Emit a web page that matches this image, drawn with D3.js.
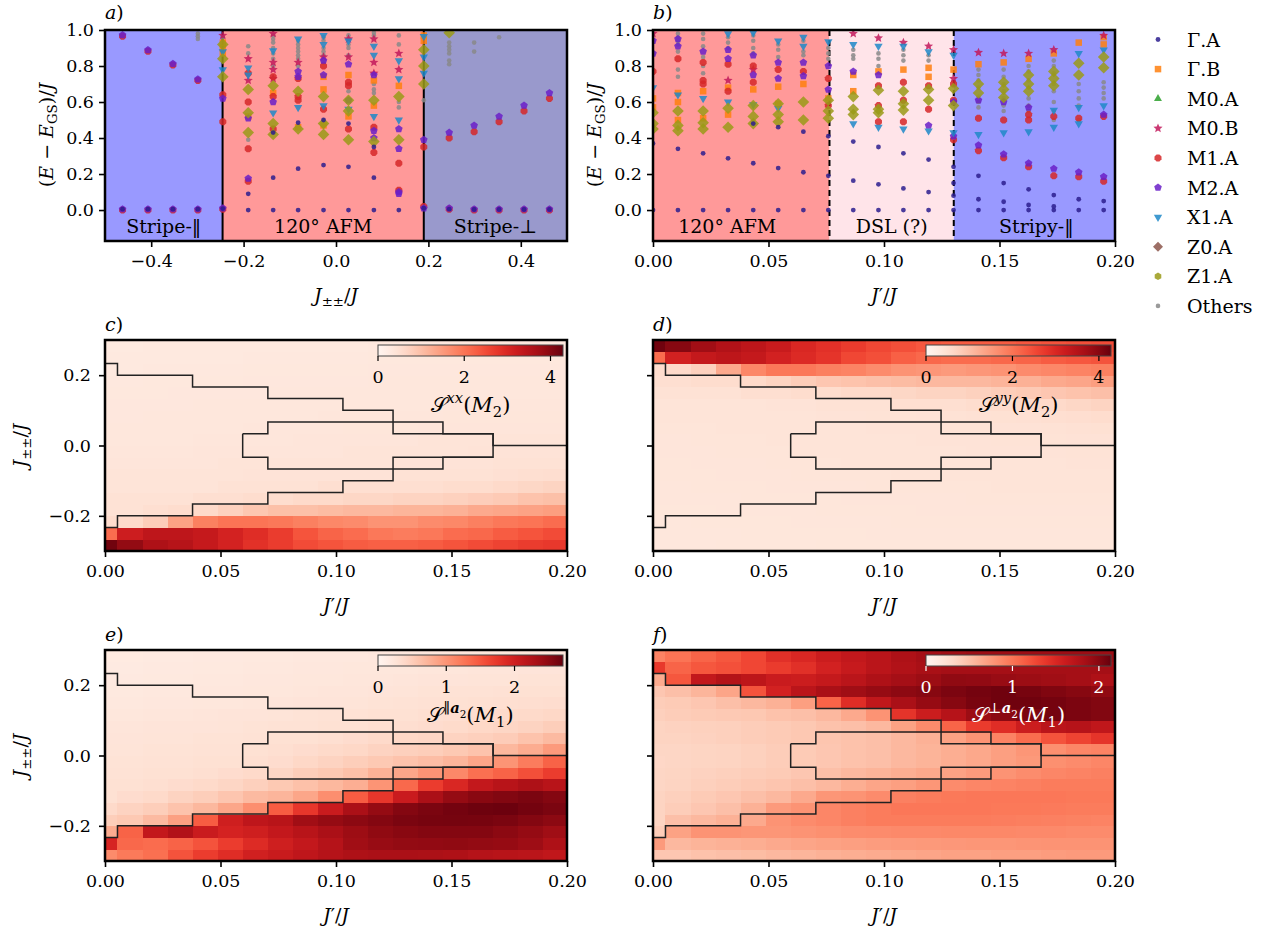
<!DOCTYPE html>
<html>
<head>
<meta charset="utf-8">
<script src="https://cdn.jsdelivr.net/npm/d3@7"></script>
<style>
  body { margin: 0; background: #fff; }
  text { font-family: "DejaVu Serif", "Liberation Serif", serif; fill: #000; }
</style>
</head>
<body>
<svg id="fig" width="1269" height="931"></svg>
<script>
// ---------------- data ----------------
const seriesNames = ["Γ.A","Γ.B","M0.A","M0.B","M1.A","M2.A","X1.A","Z0.A","Z1.A","Others"];

// panel a: J±± grid, points are [column index, (E-E_GS)/J]
const jA = [-0.462,-0.407,-0.353,-0.299,-0.245,-0.190,-0.136,-0.082,-0.027,0.027,0.082,0.136,0.190,0.245,0.299,0.353,0.407,0.462];
const aGA = [[0,0.005],[1,0.005],[2,0.005],[3,0.005],[4,0.008],[5,0],[6,0],[7,0],[8,0],[9,0],[10,0],[11,0],[12,0.01],[13,0.005],[14,0.003],[15,0.003],[16,0.003],[17,0.003],
  [5,0.09],[6,0.43],[6,0.18],[7,0.485],[7,0.23],[8,0.5],[8,0.25],[9,0.48],[9,0.24],[10,0.35],[10,0.18]];
const aGB = [[4,0.93],[4,0.9],[4,0.87],[5,0.52],[6,0.65],[7,0.46],[8,0.74],[8,0.67],[8,0.47],[9,0.75],[9,0.52],[10,0.72],[10,0.58],[11,0.69],[12,0.97],[12,0.94]];
const aM0A = [];
const aM0B = [[4,0.97],[5,0.84],[5,0.72],[6,0.98],[6,0.82],[6,0.78],[6,0.73],[7,0.82],[8,0.85],[9,0.95],[9,0.85],[10,0.95],[10,0.82],[10,0.76],[11,0.87],[11,0.78]];
const aM1A = [[0,0.965],[0,0],[1,0.882],[1,0],[2,0.806],[2,0],[3,0.72],[3,0],[4,0.64],[4,0.49],[4,0.005],[5,0.76],[5,0.6],[5,0.34],[5,0.16],[6,0.74],[6,0.63],[6,0.45],[7,0.73],[7,0.63],[7,0.61],[8,0.8],[8,0.56],[9,0.71],[9,0.69],[9,0.45],[10,0.46],[10,0.32],[11,0.26],[11,0.11],[12,0.35],[12,0.02],[13,0.4],[13,0.005],[14,0.435],[14,0],[15,0.49],[15,0],[16,0.55],[16,0],[17,0.62],[17,0]];
const aM2A = [[0,0.972],[0,0.005],[1,0.889],[1,0.005],[2,0.813],[2,0.005],[3,0.726],[3,0.005],[4,0.62],[4,0.01],[5,0.51],[5,0.175],[6,0.6],[7,0.77],[7,0.74],[8,0.83],[8,0.75],[9,0.81],[9,0.61],[10,0.75],[10,0.44],[10,0.4],[11,0.45],[11,0.34],[11,0.1],[11,0.09],[12,0.39],[12,0.01],[13,0.43],[13,0.01],[14,0.47],[14,0.005],[15,0.52],[15,0.005],[16,0.58],[16,0.005],[17,0.65],[17,0.005]];
const aX1A = [[4,0.88],[4,0.78],[5,0.79],[5,0.75],[6,0.885],[6,0.54],[7,0.95],[7,0.57],[8,0.97],[8,0.92],[8,0.58],[9,0.94],[9,0.56],[10,0.91],[10,0.86],[10,0.52],[11,0.83],[11,0.73],[11,0.5],[12,0.965],[12,0.85],[12,0.76]];
const aZ0A = [];
const aZ1A = [[4,0.92],[4,0.84],[4,0.74],[5,0.67],[5,0.54],[5,0.43],[6,0.69],[6,0.48],[6,0.42],[7,0.66],[7,0.45],[8,0.63],[8,0.48],[8,0.42],[9,0.61],[9,0.55],[9,0.39],[10,0.61],[10,0.38],[11,0.63],[11,0.39],[12,0.89],[12,0.8],[12,0.7],[13,0.985]];
const aOth = [[3,0.98],[3,0.965],[3,0.95],[4,0.96],[5,0.91],[5,0.87],[5,0.39],[6,0.97],[6,0.95],[6,0.93],[6,0.9],[6,0.87],[6,0.84],[6,0.8],[7,0.94],[7,0.92],[7,0.9],[7,0.88],[7,0.86],[7,0.84],[7,0.8],
  [8,0.96],[8,0.94],[8,0.9],[8,0.88],[8,0.86],[8,0.82],[9,0.97],[9,0.95],[9,0.92],[9,0.9],[9,0.86],[9,0.66],[10,0.985],[10,0.97],[10,0.7],[10,0.67],[10,0.65],[11,0.97],[11,0.92],[11,0.6],[11,0.57],[12,0.61],
  [13,0.93],[13,0.91],[13,0.89],[13,0.87],[13,0.83],[13,0.81],[14,0.93],[14,0.88],[15,0.96]];
const aPhaseEdges = [-0.5, -0.2455, 0.19, 0.5];
const aPhaseNames = ["Stripe-‖", "120° AFM", "Stripe-⊥"];

// panel b: J' grid (also the heat-map columns)
const jB = [0,0.0108,0.0217,0.0325,0.0434,0.0542,0.0651,0.0759,0.0867,0.0976,0.1084,0.1193,0.1301,0.1409,0.1518,0.1626,0.1735,0.1843,0.1951];
const bGA = [[0,0],[1,0],[2,0],[3,0],[4,0],[5,0],[6,0],[7,0],[8,0],[9,0],[10,0],[11,0],[12,0],[13,0],[14,0],[15,0],[16,0],[17,0],[18,0],
  [0,0.37],[1,0.34],[2,0.315],[3,0.287],[4,0.26],[5,0.233],[6,0.21],[4,0.48],[5,0.46],[6,0.435],[7,0.41],[7,0.19],[8,0.38],[8,0.163],[9,0.35],[9,0.143],[10,0.315],[10,0.12],
  [11,0.28],[11,0.1],[12,0.24],[12,0.15],[12,0.08],[13,0.19],[13,0.06],[14,0.15],[14,0.046],[15,0.115],[15,0.028],[16,0.083],[16,0.02],[17,0.06],[18,0.05]];
const bGB = [[0,0.62],[0,0.57],[1,0.65],[1,0.6],[1,0.5],[2,0.66],[2,0.51],[3,0.68],[3,0.53],[4,0.67],[5,0.685],[5,0.59],[6,0.7],[7,0.62],[8,0.75],[8,0.66],[9,0.77],[10,0.78],[11,0.79],[11,0.74],[12,0.78],[13,0.81],[14,0.82],[15,0.84],[16,0.87],[17,0.93],[18,0.92],[18,0.96]];
const bM0A = [];
const bM0B = [[0,0.98],[3,0.72],[4,0.78],[8,0.98],[9,0.955],[10,0.93],[11,0.91],[12,0.89],[12,0.73],[13,0.875],[14,0.87],[15,0.87],[16,0.89],[18,0.97]];
const bM1A = [[0,0.77],[1,0.84],[2,0.82],[2,0.72],[2,0.7],[3,0.81],[3,0.66],[4,0.8],[4,0.71],[5,0.78],[6,0.77],[7,0.73],[7,0.58],[9,0.69],[9,0.58],[9,0.49],[10,0.71],[10,0.61],[10,0.49],[11,0.69],[11,0.56],[12,0.7],[12,0.61],[12,0.39],
  [13,0.51],[13,0.33],[14,0.5],[14,0.29],[15,0.53],[15,0.5],[15,0.24],[16,0.52],[16,0.19],[17,0.51],[17,0.185],[18,0.52],[18,0.16]];
const bM2A = [[0,0.94],[0,0.87],[1,0.95],[1,0.91],[2,0.88],[3,0.89],[3,0.84],[4,0.86],[4,0.75],[5,0.82],[5,0.73],[6,0.82],[6,0.745],[7,0.8],[7,0.67],[8,0.77],[9,0.75],[11,0.47],[12,0.6],[12,0.41],[13,0.61],[13,0.36],[14,0.6],[14,0.31],[15,0.57],[15,0.26],[16,0.23],[17,0.21],[18,0.53],[18,0.185]];
const bX1A = [[0,0.68],[1,0.64],[2,0.62],[3,0.98],[3,0.6],[4,0.985],[4,0.585],[5,0.94],[5,0.565],[6,0.96],[6,0.91],[7,0.935],[8,0.92],[8,0.48],[9,0.91],[9,0.46],[10,0.91],[10,0.45],[11,0.88],[11,0.44],[12,0.86],[12,0.43],[13,0.42],[14,0.43],[15,0.435],[16,0.555],[16,0.46],[17,0.87],[17,0.57],[17,0.48],[18,0.89],[18,0.58]];
const bZ0A = [];
const bZ1A = [[0,0.54],[0,0.48],[0,0.45],[1,0.55],[1,0.47],[1,0.44],[2,0.55],[2,0.485],[2,0.45],[3,0.565],[3,0.46],[4,0.58],[4,0.52],[4,0.48],[5,0.59],[5,0.53],[5,0.49],[6,0.6],[6,0.5],[7,0.61],[7,0.55],[7,0.51],[8,0.63],[8,0.56],[8,0.53],
  [9,0.665],[9,0.56],[9,0.54],[10,0.66],[10,0.59],[10,0.555],[11,0.67],[11,0.61],[12,0.675],[12,0.58],[13,0.7],[13,0.65],[14,0.71],[14,0.67],[14,0.625],[15,0.75],[15,0.7],[15,0.66],[16,0.77],[16,0.73],[16,0.69],[17,0.815],[17,0.75],[18,0.85],[18,0.79]];
const bOth = [[1,0.98],[1,0.96],[1,0.94],[1,0.92],[1,0.88],[1,0.78],[1,0.74],[2,0.98],[2,0.95],[2,0.91],[2,0.85],[2,0.8],[2,0.76],[3,0.96],[3,0.93],[3,0.9],[4,0.97],[4,0.94],[4,0.9],[4,0.87],
  [5,0.92],[5,0.89],[5,0.85],[6,0.94],[6,0.88],[6,0.86],[7,0.9],[7,0.87],[7,0.84],[8,0.89],[8,0.86],[8,0.84],[9,0.87],[9,0.84],[9,0.8],[10,0.89],[10,0.86],[10,0.83],[11,0.86],[11,0.83],
  [13,0.78],[13,0.75],[13,0.72],[13,0.68],[13,0.63],[13,0.6],[13,0.57],[14,0.78],[14,0.74],[14,0.7],[14,0.66],[14,0.62],[14,0.58],[14,0.55],[15,0.8],[15,0.77],[15,0.72],[15,0.68],[15,0.62],[15,0.58],[15,0.55],
  [16,0.83],[16,0.8],[16,0.76],[16,0.7],[16,0.66],[16,0.6],[16,0.55],[16,0.5],[17,0.7],[17,0.66],[17,0.62],[17,0.58],[17,0.5],[18,0.71],[18,0.68],[18,0.65],[18,0.62]];
const bPhaseEdges = [0, 0.0764, 0.1302, 0.2];
const bPhaseNames = ["120° AFM", "DSL (?)", "Stripy-‖"];

// heat maps: rows are J±± (bottom to top), columns are jB
const jpmRows = [-0.2833,-0.25,-0.2167,-0.1833,-0.15,-0.1167,-0.0833,-0.05,-0.0167,0.0167,0.05,0.0833,0.1167,0.15,0.1833,0.2167,0.25,0.2833];
const heatC = [
  [4.2,3.9,3.6,3.5,3.3,3.1,2.85,2.7,2.5,2.4,2.3,2.25,2.25,2.3,2.4,2.5,2.6,2.7,2.75],
  [2.1,3.2,3.4,3.4,3.3,3.1,2.9,2.7,2.4,2.2,2.1,1.95,1.9,1.95,2.1,2.15,2.3,2.4,2.5],
  [0.55,0.6,0.8,1.4,1.85,2.0,2.0,1.95,1.85,1.75,1.7,1.6,1.6,1.7,1.75,1.85,1.95,2.0,2.1],
  [0.45,0.45,0.5,0.55,0.6,0.75,0.9,1.0,1.0,1.05,1.1,1.1,1.15,1.15,1.2,1.3,1.35,1.4,1.45],
  [0.45,0.45,0.45,0.45,0.5,0.5,0.55,0.55,0.6,0.6,0.65,0.65,0.7,0.7,0.75,0.8,0.85,0.95,1.0],
  [0.4,0.4,0.4,0.4,0.4,0.45,0.45,0.45,0.45,0.5,0.5,0.5,0.5,0.5,0.55,0.55,0.6,0.65,0.7],
  [0.4,0.4,0.4,0.4,0.4,0.4,0.42,0.42,0.42,0.42,0.42,0.42,0.45,0.45,0.45,0.45,0.48,0.5,0.52],
  [0.38,0.38,0.38,0.38,0.38,0.4,0.4,0.4,0.4,0.4,0.4,0.4,0.42,0.42,0.42,0.42,0.45,0.45,0.45],
  [0.36,0.36,0.36,0.36,0.38,0.38,0.38,0.38,0.38,0.38,0.4,0.4,0.4,0.4,0.4,0.42,0.42,0.42,0.42],
  [0.35,0.35,0.35,0.35,0.36,0.36,0.36,0.36,0.38,0.38,0.38,0.38,0.38,0.4,0.4,0.4,0.4,0.4,0.4],
  [0.34,0.34,0.34,0.35,0.35,0.35,0.36,0.36,0.36,0.36,0.37,0.37,0.37,0.38,0.38,0.38,0.38,0.38,0.38],
  [0.33,0.33,0.34,0.34,0.34,0.35,0.35,0.35,0.35,0.36,0.36,0.36,0.36,0.36,0.37,0.37,0.37,0.37,0.37],
  [0.33,0.33,0.33,0.33,0.34,0.34,0.34,0.34,0.35,0.35,0.35,0.35,0.35,0.35,0.36,0.36,0.36,0.36,0.36],
  [0.32,0.32,0.32,0.33,0.33,0.33,0.33,0.34,0.34,0.34,0.34,0.34,0.35,0.35,0.35,0.35,0.35,0.35,0.35],
  [0.31,0.31,0.32,0.32,0.32,0.32,0.33,0.33,0.33,0.33,0.33,0.34,0.34,0.34,0.34,0.34,0.34,0.34,0.34],
  [0.3,0.3,0.31,0.31,0.31,0.31,0.32,0.32,0.32,0.32,0.32,0.33,0.33,0.33,0.33,0.33,0.33,0.33,0.33],
  [0.29,0.29,0.3,0.3,0.3,0.3,0.31,0.31,0.31,0.31,0.31,0.32,0.32,0.32,0.32,0.32,0.32,0.32,0.32],
  [0.28,0.28,0.29,0.29,0.29,0.29,0.3,0.3,0.3,0.3,0.3,0.31,0.31,0.31,0.31,0.31,0.31,0.31,0.31]
];
const heatD = [
  [0.33,0.33,0.33,0.34,0.34,0.34,0.34,0.35,0.35,0.35,0.35,0.35,0.35,0.35,0.35,0.35,0.35,0.35,0.35],
  [0.34,0.34,0.34,0.34,0.35,0.35,0.35,0.35,0.35,0.36,0.36,0.36,0.36,0.36,0.36,0.36,0.36,0.36,0.36],
  [0.34,0.34,0.35,0.35,0.35,0.35,0.36,0.36,0.36,0.36,0.37,0.37,0.37,0.37,0.37,0.37,0.37,0.37,0.37],
  [0.35,0.35,0.35,0.36,0.36,0.36,0.36,0.37,0.37,0.37,0.37,0.38,0.38,0.38,0.38,0.38,0.38,0.38,0.38],
  [0.36,0.36,0.36,0.36,0.37,0.37,0.37,0.37,0.38,0.38,0.38,0.38,0.38,0.39,0.39,0.39,0.39,0.39,0.39],
  [0.36,0.36,0.37,0.37,0.37,0.38,0.38,0.38,0.38,0.39,0.39,0.39,0.39,0.39,0.4,0.4,0.4,0.4,0.4],
  [0.37,0.37,0.37,0.38,0.38,0.38,0.39,0.39,0.39,0.39,0.4,0.4,0.4,0.4,0.4,0.4,0.41,0.41,0.41],
  [0.37,0.37,0.38,0.38,0.38,0.39,0.39,0.39,0.4,0.4,0.4,0.4,0.41,0.41,0.41,0.41,0.41,0.42,0.42],
  [0.38,0.38,0.38,0.39,0.39,0.39,0.4,0.4,0.4,0.4,0.41,0.41,0.41,0.42,0.42,0.42,0.42,0.43,0.43],
  [0.38,0.38,0.39,0.39,0.39,0.4,0.4,0.4,0.41,0.41,0.41,0.42,0.42,0.42,0.43,0.43,0.43,0.44,0.44],
  [0.39,0.39,0.39,0.4,0.4,0.4,0.41,0.41,0.41,0.42,0.42,0.42,0.43,0.43,0.44,0.44,0.45,0.46,0.47],
  [0.4,0.4,0.4,0.4,0.4,0.41,0.41,0.42,0.42,0.43,0.43,0.44,0.45,0.46,0.47,0.48,0.5,0.52,0.55],
  [0.4,0.4,0.4,0.4,0.4,0.42,0.42,0.45,0.45,0.45,0.5,0.5,0.5,0.55,0.55,0.6,0.6,0.65,0.7],
  [0.45,0.45,0.45,0.45,0.5,0.5,0.55,0.55,0.6,0.6,0.65,0.7,0.7,0.75,0.8,0.85,0.9,0.95,1.0],
  [0.5,0.5,0.55,0.55,0.6,0.7,0.8,0.9,0.95,1.0,1.05,1.1,1.1,1.1,1.15,1.2,1.3,1.35,1.45],
  [0.55,0.6,0.75,1.3,1.75,1.95,1.95,1.85,1.8,1.7,1.6,1.55,1.5,1.55,1.6,1.7,1.75,1.8,1.85],
  [2.1,3.1,3.3,3.4,3.3,3.1,2.95,2.8,2.55,2.45,2.25,2.15,2.1,2.1,2.15,2.2,2.3,2.35,2.4],
  [4.2,4.0,3.75,3.55,3.4,3.25,3.0,2.85,2.7,2.55,2.45,2.35,2.3,2.3,2.3,2.35,2.4,2.45,2.5]
];
const heatE = [
  [1.08,1.22,1.3,1.52,1.7,1.84,1.98,2.06,2.14,2.22,2.28,2.3,2.3,2.29,2.27,2.22,2.2,2.18,2.13],
  [1.93,1.36,1.33,1.4,1.52,1.7,1.86,2.0,2.1,2.22,2.37,2.43,2.46,2.47,2.48,2.46,2.44,2.39,2.28],
  [0.8,1.4,2.1,2.25,2.05,1.95,2.0,2.1,2.2,2.3,2.4,2.48,2.52,2.55,2.55,2.55,2.5,2.45,2.38],
  [0.5,0.55,0.68,0.9,1.45,2.0,2.15,2.2,2.37,2.45,2.5,2.55,2.6,2.62,2.63,2.62,2.6,2.55,2.5],
  [0.38,0.45,0.5,0.6,0.7,0.85,1.05,1.45,1.75,2.05,2.3,2.45,2.55,2.6,2.64,2.67,2.68,2.64,2.6],
  [0.3,0.35,0.38,0.45,0.5,0.58,0.68,0.72,0.85,1.05,1.45,1.75,2.05,2.3,2.45,2.52,2.56,2.6,2.55],
  [0.3,0.3,0.32,0.35,0.38,0.42,0.48,0.55,0.62,0.7,0.78,1.0,1.35,1.7,1.9,2.1,2.2,2.28,2.2],
  [0.28,0.28,0.3,0.3,0.32,0.35,0.38,0.42,0.5,0.55,0.62,0.75,0.85,1.0,1.1,1.3,1.4,1.55,1.7],
  [0.27,0.27,0.28,0.28,0.3,0.3,0.32,0.35,0.4,0.45,0.5,0.55,0.6,0.65,0.72,0.85,1.0,1.2,1.4],
  [0.26,0.26,0.27,0.27,0.28,0.28,0.3,0.32,0.35,0.38,0.4,0.45,0.48,0.5,0.55,0.6,0.7,0.8,0.95],
  [0.25,0.25,0.26,0.26,0.27,0.27,0.28,0.3,0.3,0.32,0.35,0.38,0.4,0.42,0.45,0.48,0.52,0.6,0.68],
  [0.24,0.24,0.25,0.25,0.25,0.26,0.27,0.28,0.28,0.3,0.3,0.32,0.33,0.35,0.37,0.4,0.42,0.45,0.5],
  [0.22,0.22,0.23,0.23,0.24,0.25,0.25,0.26,0.27,0.28,0.28,0.3,0.3,0.32,0.33,0.35,0.37,0.38,0.4],
  [0.2,0.2,0.21,0.21,0.22,0.22,0.23,0.24,0.25,0.25,0.26,0.27,0.28,0.29,0.3,0.31,0.32,0.33,0.34],
  [0.19,0.19,0.2,0.2,0.21,0.21,0.22,0.22,0.23,0.24,0.24,0.25,0.26,0.27,0.28,0.28,0.29,0.3,0.3],
  [0.18,0.18,0.19,0.19,0.2,0.2,0.21,0.21,0.22,0.22,0.23,0.23,0.24,0.25,0.25,0.26,0.26,0.27,0.27],
  [0.17,0.17,0.18,0.18,0.19,0.19,0.2,0.2,0.21,0.21,0.22,0.22,0.22,0.23,0.23,0.24,0.24,0.25,0.25],
  [0.16,0.16,0.17,0.17,0.18,0.18,0.19,0.19,0.2,0.2,0.2,0.21,0.21,0.21,0.22,0.22,0.22,0.23,0.23]
];
const heatF = [
  [0.45,0.45,0.48,0.5,0.52,0.55,0.57,0.6,0.62,0.64,0.66,0.68,0.7,0.7,0.72,0.72,0.74,0.75,0.75],
  [0.75,0.55,0.58,0.6,0.62,0.65,0.68,0.7,0.72,0.74,0.75,0.76,0.77,0.78,0.78,0.79,0.8,0.8,0.8],
  [0.4,0.7,0.8,0.8,0.78,0.78,0.8,0.82,0.84,0.85,0.86,0.86,0.87,0.87,0.87,0.86,0.86,0.85,0.85],
  [0.35,0.5,0.55,0.6,0.65,0.8,0.85,0.88,0.92,0.95,0.95,0.95,0.95,0.95,0.94,0.93,0.92,0.91,0.9],
  [0.35,0.4,0.45,0.5,0.6,0.75,0.8,0.88,0.92,0.95,0.98,0.98,0.98,0.98,0.97,0.97,0.96,0.95,0.95],
  [0.35,0.38,0.42,0.45,0.5,0.55,0.65,0.78,0.8,0.85,0.92,0.95,0.97,0.98,0.98,0.98,0.98,0.97,0.97],
  [0.33,0.35,0.38,0.4,0.43,0.46,0.5,0.55,0.62,0.68,0.72,0.78,0.85,0.88,0.9,0.92,0.95,0.95,0.95],
  [0.33,0.34,0.36,0.38,0.4,0.42,0.45,0.5,0.55,0.58,0.62,0.66,0.7,0.75,0.8,0.84,0.88,0.9,0.92],
  [0.32,0.33,0.34,0.35,0.37,0.4,0.42,0.45,0.48,0.5,0.55,0.58,0.62,0.66,0.72,0.76,0.82,0.85,0.88],
  [0.33,0.33,0.34,0.35,0.37,0.4,0.42,0.45,0.48,0.5,0.55,0.58,0.62,0.66,0.72,0.78,0.82,0.88,0.9],
  [0.35,0.35,0.36,0.38,0.4,0.42,0.44,0.46,0.48,0.5,0.55,0.6,0.7,0.8,0.9,1.05,1.2,1.3,1.4],
  [0.35,0.36,0.37,0.38,0.4,0.42,0.44,0.48,0.5,0.55,0.7,0.85,1.1,1.35,1.45,1.6,1.72,1.75,1.68],
  [0.38,0.4,0.42,0.43,0.44,0.48,0.5,0.55,0.65,0.8,1.4,1.6,1.75,1.9,1.98,2.05,2.08,2.05,2.02],
  [0.4,0.42,0.45,0.5,0.55,0.6,0.72,1.1,1.45,1.68,1.82,1.93,2.0,2.06,2.1,2.1,2.08,2.05,2.02],
  [0.45,0.5,0.57,0.68,1.2,1.55,1.72,1.82,1.88,1.93,1.97,2.0,2.05,2.08,2.1,2.07,2.03,2.0,1.96],
  [0.64,1.18,1.67,1.76,1.7,1.62,1.6,1.65,1.72,1.8,1.85,1.9,1.96,1.95,1.92,1.9,1.88,1.85,1.8],
  [1.37,1.1,1.18,1.22,1.28,1.35,1.43,1.55,1.64,1.72,1.78,1.83,1.85,1.85,1.85,1.85,1.85,1.85,1.85],
  [0.9,1.0,1.1,1.18,1.28,1.43,1.5,1.6,1.67,1.72,1.8,1.85,1.88,1.9,1.9,1.9,1.9,1.9,1.9]
];
// phase boundaries drawn over the heat maps, [J'/J, J±±/J]
const upperBound = [[0,0.2333],[0.0054,0.2333],[0.0054,0.2],[0.0379,0.2],[0.0379,0.1667],[0.0705,0.1667],[0.0705,0.1333],[0.103,0.1333],[0.103,0.1],[0.1247,0.1],[0.1247,0.0333],[0.168,0.0333],[0.168,0],[0.2,0]];
const lowerBound = [[0,-0.2333],[0.0054,-0.2333],[0.0054,-0.2],[0.0379,-0.2],[0.0379,-0.1667],[0.0705,-0.1667],[0.0705,-0.1333],[0.103,-0.1333],[0.103,-0.1],[0.1247,-0.1],[0.1247,-0.0333],[0.168,-0.0333]];
const dslBound = [[0.0596,0.0333],[0.0705,0.0333],[0.0705,0.0667],[0.1463,0.0667],[0.1463,0.0333],[0.168,0.0333],[0.168,-0.0333],[0.1463,-0.0333],[0.1463,-0.0667],[0.0705,-0.0667],[0.0705,-0.0333],[0.0596,-0.0333],[0.0596,0.0333]];

// ---------------- style ----------------
const seriesColors = ["#2b1d8e","#ff7f0e","#2ca02c","#c2185b","#d62728","#6a1fc8","#1f88c8","#8c564b","#9a9a18","#888888"];
const aPhaseFill = ["#9999ff","#ff9999","#9999cc"];
const bPhaseFill = ["#ff9999","#ffe4e9","#9999ff"];
const drawOrder = [9,1,2,3,4,5,6,7,8,0];
const FS = 19, TFS = 17.5;

const svg = d3.select("#fig");

function ngon(n, r, rot) {
  const pts = d3.range(n).map(i => {
    const a = rot + i * 2 * Math.PI / n;
    return [r * Math.sin(a), -r * Math.cos(a)];
  });
  return "M" + pts.map(p => p[0].toFixed(2) + "," + p[1].toFixed(2)).join("L") + "Z";
}
function star(r) {
  const pts = d3.range(10).map(i => {
    const a = i * Math.PI / 5, rr = i % 2 ? r * 0.45 : r;
    return [rr * Math.sin(a), -rr * Math.cos(a)];
  });
  return "M" + pts.map(p => p[0].toFixed(2) + "," + p[1].toFixed(2)).join("L") + "Z";
}
function circ(r) { return `M${-r},0A${r},${r} 0 1,0 ${r},0A${r},${r} 0 1,0 ${-r},0Z`; }
function markerPath(k, legend) {
  switch (k) {
    case 0: return circ(2.4);
    case 1: return ngon(4, 4.6, Math.PI / 4);
    case 2: return ngon(3, 4.6, 0);
    case 3: return star(4.8);
    case 4: return ngon(8, 3.8, Math.PI / 8);
    case 5: return ngon(5, 4.0, 0);
    case 6: return ngon(3, 4.8, Math.PI);
    case 7: return ngon(4, 5.0, 0);
    case 8: return legend ? ngon(6, 3.8, 0) : ngon(4, 5.8, 0);
    default: return circ(2.3);
  }
}

// math-ish text: parts [text, flags]; i italic, b bold, ^ sup, _ sub, s sub inside sup
function mtext(sel, parts, size) {
  let cur = 0;
  parts.forEach(([t, st = ""]) => {
    let off = 0, sc = 1;
    if (st.includes("s")) { off = -0.2; sc = 0.5; }
    else if (st.includes("^")) { off = -0.42; sc = 0.7; }
    else if (st.includes("_")) { off = 0.22; sc = 0.7; }
    const ts = sel.append("tspan").text(t).attr("font-size", size * sc).attr("dy", ((off - cur) * size).toFixed(2));
    if (st.includes("i")) ts.attr("font-style", "italic");
    if (st.includes("b")) ts.attr("font-weight", "bold");
    cur = off;
  });
  return sel;
}

function styleAxis(g, fs) {
  g.attr("font-family", null).attr("font-size", null);
  g.select(".domain").remove();
  g.selectAll(".tick line").attr("stroke", "#000").attr("stroke-width", 1.6);
  g.selectAll(".tick text").attr("font-size", fs).attr("fill", "#000");
}

function panelLabel(x, y, letter) {
  mtext(svg.append("text").attr("x", x).attr("y", y), [[letter, "i"], [")"]], FS);
}

let clipN = 0;
function clipFor(x0, x1, y0, y1) {
  const id = "clip" + (clipN++);
  svg.append("clipPath").attr("id", id).append("rect")
    .attr("x", x0).attr("y", y0).attr("width", x1 - x0).attr("height", y1 - y0);
  return "url(#" + id + ")";
}

const yLabelE = [["("], ["E", "i"], [" − "], ["E", "i"], ["GS", "_"], [")/"], ["J", "i"]];
const xLabelJpm = [["J", "i"], ["±±", "_"], ["/"], ["J", "i"]];
const xLabelJp = [["J", "i"], ["′/"], ["J", "i"]];

// ---------------- spectrum panels ----------------
function drawSpectrum(o) {
  const x = d3.scaleLinear(o.xDom, o.xr);
  const y = d3.scaleLinear([-0.172, 1.0], [241, 30]);
  const g = svg.append("g");
  const clip = clipFor(o.xr[0], o.xr[1], 30, 241);
  // phase regions
  o.edges.slice(0, -1).forEach((e, i) => {
    g.append("rect").attr("x", x(e)).attr("y", 30).attr("width", x(o.edges[i + 1]) - x(e)).attr("height", 211)
      .attr("fill", o.fills[i]);
  });
  o.edges.slice(1, -1).forEach(e => {
    g.append("line").attr("x1", x(e)).attr("x2", x(e)).attr("y1", 30).attr("y2", 241)
      .attr("stroke", "#000").attr("stroke-width", 2).attr("stroke-dasharray", o.dashed ? "6,4" : null);
  });
  // markers
  const mg = g.append("g").attr("clip-path", clip);
  drawOrder.forEach(k => {
    mg.append("g").selectAll("path").data(o.sets[k]).join("path")
      .attr("d", markerPath(k, false))
      .attr("transform", d => `translate(${x(o.cols[d[0]])},${y(d[1])})`)
      .attr("fill", seriesColors[k]).attr("fill-opacity", 0.85);
  });
  // region labels
  o.names.forEach((n, i) => {
    g.append("text").attr("x", (x(o.edges[i]) + x(o.edges[i + 1])) / 2 + (o.nameShift ? o.nameShift[i] : 0)).attr("y", 233)
      .attr("text-anchor", "middle").attr("font-size", FS).text(n);
  });
  // axes
  const ax = g.append("g").attr("transform", "translate(0,241)")
    .call(d3.axisBottom(x).tickValues(o.xTicks).tickFormat(d3.format(o.xFmt)).tickSize(6).tickPadding(8));
  styleAxis(ax, TFS);
  const ay = g.append("g").attr("transform", `translate(${o.xr[0]},0)`)
    .call(d3.axisLeft(y).tickValues([0, 0.2, 0.4, 0.6, 0.8, 1.0]).tickFormat(d3.format(".1f")).tickSize(6).tickPadding(5));
  styleAxis(ay, TFS);
  g.append("rect").attr("x", o.xr[0]).attr("y", 30).attr("width", o.xr[1] - o.xr[0]).attr("height", 211)
    .attr("fill", "none").attr("stroke", "#000").attr("stroke-width", 2.5);
  // labels
  mtext(g.append("text").attr("x", (o.xr[0] + o.xr[1]) / 2).attr("y", 302).attr("text-anchor", "middle"), o.xLabel, FS);
  mtext(g.append("text").attr("transform", `translate(${o.xr[0] - 52},135) rotate(-90)`).attr("text-anchor", "middle"), yLabelE, FS);
  panelLabel(o.xr[0], 19, o.letter);
}

drawSpectrum({
  xDom: [-0.5, 0.5], xr: [105, 567], cols: jA,
  sets: [aGA, aGB, aM0A, aM0B, aM1A, aM2A, aX1A, aZ0A, aZ1A, aOth],
  edges: aPhaseEdges, names: aPhaseNames, fills: aPhaseFill, dashed: false,
  xTicks: [-0.4, -0.2, 0, 0.2, 0.4], xFmt: ".1f", xLabel: xLabelJpm, letter: "a"
});
drawSpectrum({
  xDom: [0, 0.2], xr: [653, 1115], cols: jB,
  sets: [bGA, bGB, bM0A, bM0B, bM1A, bM2A, bX1A, bZ0A, bZ1A, bOth],
  edges: bPhaseEdges, names: bPhaseNames, fills: bPhaseFill, dashed: true, nameShift: [-14, 0, 2],
  xTicks: [0, 0.05, 0.1, 0.15, 0.2], xFmt: ".2f", xLabel: xLabelJp, letter: "b"
});

// legend
const leg = svg.append("g");
seriesNames.forEach((n, k) => {
  const yy = 39.5 + k * 29.6;
  leg.append("path").attr("d", markerPath(k, true)).attr("transform", `translate(1158,${yy})`)
    .attr("fill", seriesColors[k]).attr("fill-opacity", 0.85);
  leg.append("text").attr("x", 1187).attr("y", yy + 7).attr("font-size", FS).text(n);
});

// ---------------- heat-map panels ----------------
let gradN = 0;
function drawHeat(o) {
  const x = d3.scaleLinear([0, 0.2], o.xr);
  const y = d3.scaleLinear([-0.3, 0.3], o.yr);
  const color = d3.scaleSequential(d3.interpolateReds).domain([0, o.vmax]);
  const dx = jB[1] - jB[0], dy = jpmRows[1] - jpmRows[0];
  const g = svg.append("g");
  const clip = clipFor(o.xr[0], o.xr[1], o.yr[1], o.yr[0]);
  const cells = o.data.flatMap((row, i) => row.map((v, j) => ({ i, j, v })));
  g.append("g").attr("clip-path", clip).selectAll("rect").data(cells).join("rect")
    .attr("x", d => x(jB[d.j] - dx / 2)).attr("width", x(dx) - x(0) + 0.5)
    .attr("y", d => y(jpmRows[d.i] + dy / 2)).attr("height", y(0) - y(dy) + 0.5)
    .attr("fill", d => color(d.v)).attr("shape-rendering", "crispEdges");
  const line = d3.line().x(d => x(d[0])).y(d => y(d[1]));
  g.append("g").attr("clip-path", clip).selectAll("path").data([upperBound, lowerBound, dslBound]).join("path")
    .attr("d", line).attr("fill", "none").attr("stroke", "#222").attr("stroke-width", 1.5);

  // inset colour bar
  const cx0 = o.xr[1] - 189, cx1 = o.xr[1] - 4, cy = o.yr[1] + 5;
  const gid = "grad" + (gradN++);
  const grad = svg.append("defs").append("linearGradient").attr("id", gid);
  d3.range(0, 1.0001, 0.05).forEach(t => grad.append("stop").attr("offset", t).attr("stop-color", d3.interpolateReds(t)));
  const cs = d3.scaleLinear([0, o.vmax], [cx0, cx1]);
  g.append("rect").attr("x", cx0).attr("y", cy).attr("width", cx1 - cx0).attr("height", 11)
    .attr("fill", `url(#${gid})`).attr("stroke", "#444").attr("stroke-width", 1);
  o.cTicks.forEach(t => {
    g.append("line").attr("x1", cs(t)).attr("x2", cs(t)).attr("y1", cy + 11).attr("y2", cy + 16)
      .attr("stroke", o.ink).attr("stroke-width", 1.2);
    g.append("text").attr("x", cs(t)).attr("y", cy + 38).attr("text-anchor", "middle")
      .attr("font-size", TFS).style("fill", o.ink).text(t);
  });
  const lab = g.append("text").attr("x", (cx0 + cx1) / 2).attr("y", cy + 67).attr("text-anchor", "middle").style("fill", o.ink);
  mtext(lab, o.cLabel, 21);
  lab.selectAll("tspan").style("fill", o.ink);

  // axes
  const ax = g.append("g").attr("transform", `translate(0,${o.yr[0]})`)
    .call(d3.axisBottom(x).tickValues([0, 0.05, 0.1, 0.15, 0.2]).tickFormat(d3.format(".2f")).tickSize(6).tickPadding(8));
  styleAxis(ax, TFS);
  const ay = g.append("g").attr("transform", `translate(${o.xr[0]},0)`)
    .call(d3.axisLeft(y).tickValues([-0.2, 0, 0.2]).tickFormat(o.yLabels ? d3.format(".1f") : () => "").tickSize(6).tickPadding(8));
  styleAxis(ay, TFS);
  g.append("rect").attr("x", o.xr[0]).attr("y", o.yr[1]).attr("width", o.xr[1] - o.xr[0]).attr("height", o.yr[0] - o.yr[1])
    .attr("fill", "none").attr("stroke", "#000").attr("stroke-width", 2.5);
  mtext(g.append("text").attr("x", (o.xr[0] + o.xr[1]) / 2).attr("y", o.yr[0] + 61).attr("text-anchor", "middle"), xLabelJp, FS);
  if (o.yLabels) {
    mtext(g.append("text").attr("transform", `translate(27,${(o.yr[0] + o.yr[1]) / 2}) rotate(-90)`).attr("text-anchor", "middle"), xLabelJpm, FS);
  }
  panelLabel(o.xr[0], o.yr[1] - 9, o.letter);
}

const S = "𝒮";
drawHeat({ xr: [105, 567], yr: [551, 340], data: heatC, vmax: 4.29, cTicks: [0, 2, 4], ink: "#000", yLabels: true, letter: "c",
  cLabel: [[S], ["xx", "^i"], ["("], ["M", "i"], ["2", "_"], [")"]] });
drawHeat({ xr: [653, 1115], yr: [551, 340], data: heatD, vmax: 4.28, cTicks: [0, 2, 4], ink: "#000", yLabels: false, letter: "d",
  cLabel: [[S], ["yy", "^i"], ["("], ["M", "i"], ["2", "_"], [")"]] });
drawHeat({ xr: [105, 567], yr: [861, 650], data: heatE, vmax: 2.71, cTicks: [0, 1, 2], ink: "#000", yLabels: true, letter: "e",
  cLabel: [[S], ["∥", "^"], ["a", "^ib"], ["2", "s"], ["("], ["M", "i"], ["1", "_"], [")"]] });
drawHeat({ xr: [653, 1115], yr: [861, 650], data: heatF, vmax: 2.14, cTicks: [0, 1, 2], ink: "#fff", yLabels: false, letter: "f",
  cLabel: [[S], ["⊥", "^"], ["a", "^ib"], ["2", "s"], ["("], ["M", "i"], ["1", "_"], [")"]] });
</script>
</body>
</html>
